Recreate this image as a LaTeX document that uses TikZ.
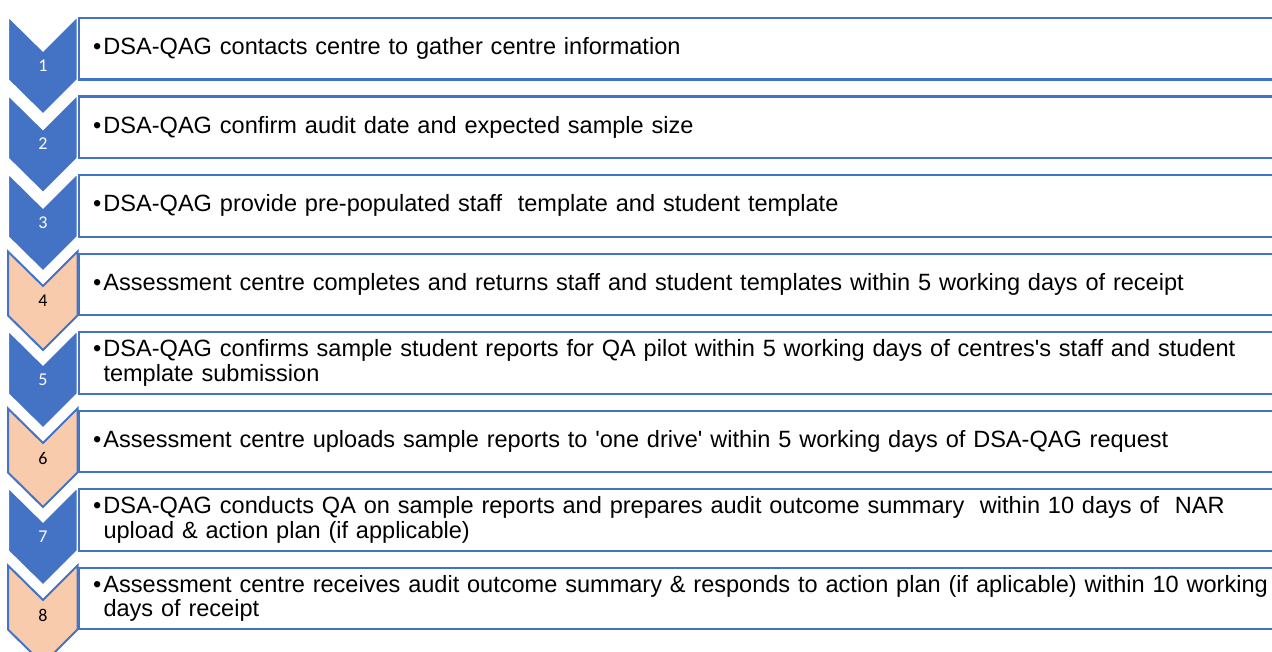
\documentclass[tikz,border=0pt]{standalone}
\usepackage{fontspec}
\setmainfont{Liberation Sans}
\newfontfamily\numfont{Carlito}
\definecolor{stepblue}{HTML}{4472C4}
\definecolor{steppeach}{HTML}{F8CBAD}

\tikzset{
  chevblue/.style={fill=stepblue, draw=white, line width=1pt, line join=miter},
  chevpeach/.style={fill=steppeach, draw=stepblue, line width=1pt, line join=miter},
  stepbox/.style={rectangle, draw=stepblue, fill=white, line width=1.1pt,
    anchor=north west, minimum height=30.75pt, minimum width=614.5pt,
    inner xsep=7.25pt, inner ysep=0pt, text width=600pt, align=left,
    font=\fontsize{11.77pt}{12.25pt}\selectfont},
  stepnum/.style={font=\numfont\fontsize{9pt}{9pt}\selectfont, inner sep=0pt}
}
% bullet followed by a block whose wrapped lines stay indented
\newcommand\bulletitem[1]{\makebox[5.2pt][l]{•}\parbox[t]{590pt}{#1}}

\begin{document}
\begin{tikzpicture}[x=0.5pt, y=-0.5pt]
  \useasboundingbox (0,0) rectangle (1272,652);
  \clip (0,0) rectangle (1272,652);

  % chevrons with their step numbers
  \foreach \n/\sty/\col in {1/chevblue/white, 2/chevblue/white, 3/chevblue/white,
      4/chevpeach/black, 5/chevblue/white, 6/chevpeach/black,
      7/chevblue/white, 8/chevpeach/black} {
    \pgfmathsetmacro\ctop{16+78.5*(\n-1)}
    \pgfmathsetmacro\cnotch{\ctop+34.5}
    \pgfmathsetmacro\cside{\ctop+64}
    \pgfmathsetmacro\ctip{\ctop+98.5}
    \pgfmathsetmacro\cnum{\ctop+49.5}
    \draw[\sty] (8,\ctop) -- (43,\cnotch) -- (77.5,\ctop) -- (77.5,\cside)
      -- (43,\ctip) -- (8,\cside) -- cycle;
    \node[stepnum, text=\col] (num\n) at (43,\cnum) {\n};
  }

  % step descriptions
  \node[stepbox] (b1) at (77.5,17)
    {\bulletitem{DSA-QAG contacts centre to gather centre information}};
  \node[stepbox] (b2) at (77.5,95.5)
    {\bulletitem{DSA-QAG confirm audit date and expected sample size}};
  \node[stepbox] (b3) at (77.5,174)
    {\bulletitem{DSA-QAG provide pre-populated staff\ \ template and student template}};
  \node[stepbox] (b4) at (77.5,252.5)
    {\bulletitem{Assessment centre completes and returns staff and student templates within 5 working days of receipt}};
  \node[stepbox] (b5) at (77.5,331)
    {\bulletitem{DSA-QAG confirms sample student reports for QA pilot within 5 working days of centres\textquotesingle s staff and student\\ template submission}};
  \node[stepbox] (b6) at (77.5,409.5)
    {\bulletitem{Assessment centre uploads sample reports to \textquotesingle one drive\textquotesingle{} within 5 working days of DSA-QAG request}};
  \node[stepbox] (b7) at (77.5,488)
    {\bulletitem{DSA-QAG conducts QA on sample reports and prepares audit outcome summary\ \ within 10 days of\ \ NAR\\ upload \& action plan (if applicable)}};
  \node[stepbox] (b8) at (77.5,566.5)
    {\bulletitem{Assessment centre receives audit outcome summary \& responds to action plan (if aplicable) within 10 working\\ days of receipt}};
\end{tikzpicture}
\end{document}
